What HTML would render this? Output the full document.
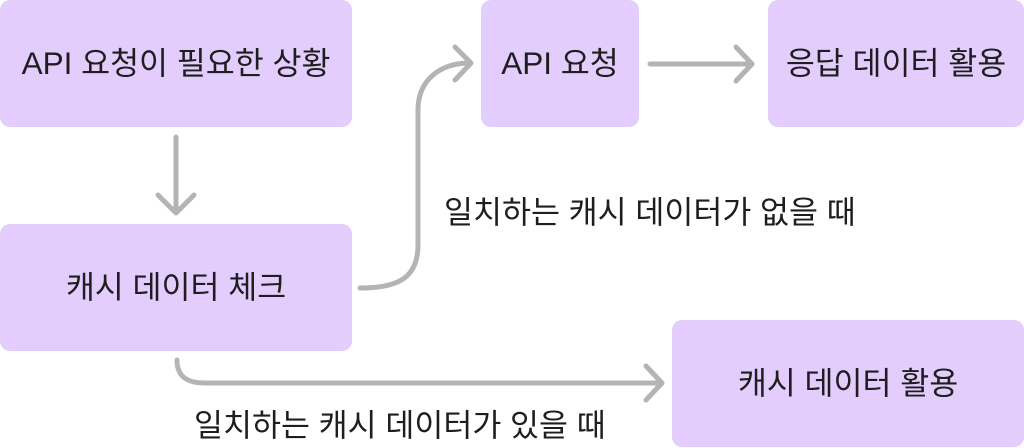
<!DOCTYPE html>
<html><head><meta charset="utf-8"><style>
body{margin:0;width:1024px;height:448px;background:#fff;position:relative;overflow:hidden;font-family:"Liberation Sans","Noto Sans CJK KR",sans-serif;}
.b{position:absolute;background:#e3cdfd;border-radius:10px;display:flex;align-items:center;justify-content:center;font-size:31.5px;color:#1e1e1e;line-height:1;}
.t{position:absolute;font-size:31.5px;line-height:32px;color:#1e1e1e;white-space:nowrap;}
</style></head><body>
<div class="b" style="left:0;top:0;width:352px;height:127px">API 요청이 필요한 상황</div>
<div class="b" style="left:0;top:224px;width:352px;height:127px">캐시 데이터 체크</div>
<div class="b" style="left:481px;top:0;width:158px;height:127px">API 요청</div>
<div class="b" style="left:768px;top:0;width:256px;height:127px">응답 데이터 활용</div>
<div class="b" style="left:672px;top:320px;width:352px;height:127px">캐시 데이터 활용</div>
<div class="t" style="left:444px;top:196px">일치하는 캐시 데이터가 없을 때</div>
<div class="t" style="left:194px;top:409px">일치하는 캐시 데이터가 있을 때</div>
<svg width="1024" height="448" style="position:absolute;left:0;top:0" fill="none" stroke="#b4b4b4" stroke-width="5" stroke-linecap="round" stroke-linejoin="round">
<path d="M176 137 V213 M158 195 L176 213 L194 195"/>
<path d="M360 288 C395 288 418 280 418 245 V110 C418 80 440 63 470 63 M455 47 L471 63 L455 80"/>
<path d="M650 64 H752 M736 47 L752 64 L736 81"/>
<path d="M177 360 C177 375 185 383 205 383 H662 M646 366 L662 383 L646 400"/>
</svg>
</body></html>
